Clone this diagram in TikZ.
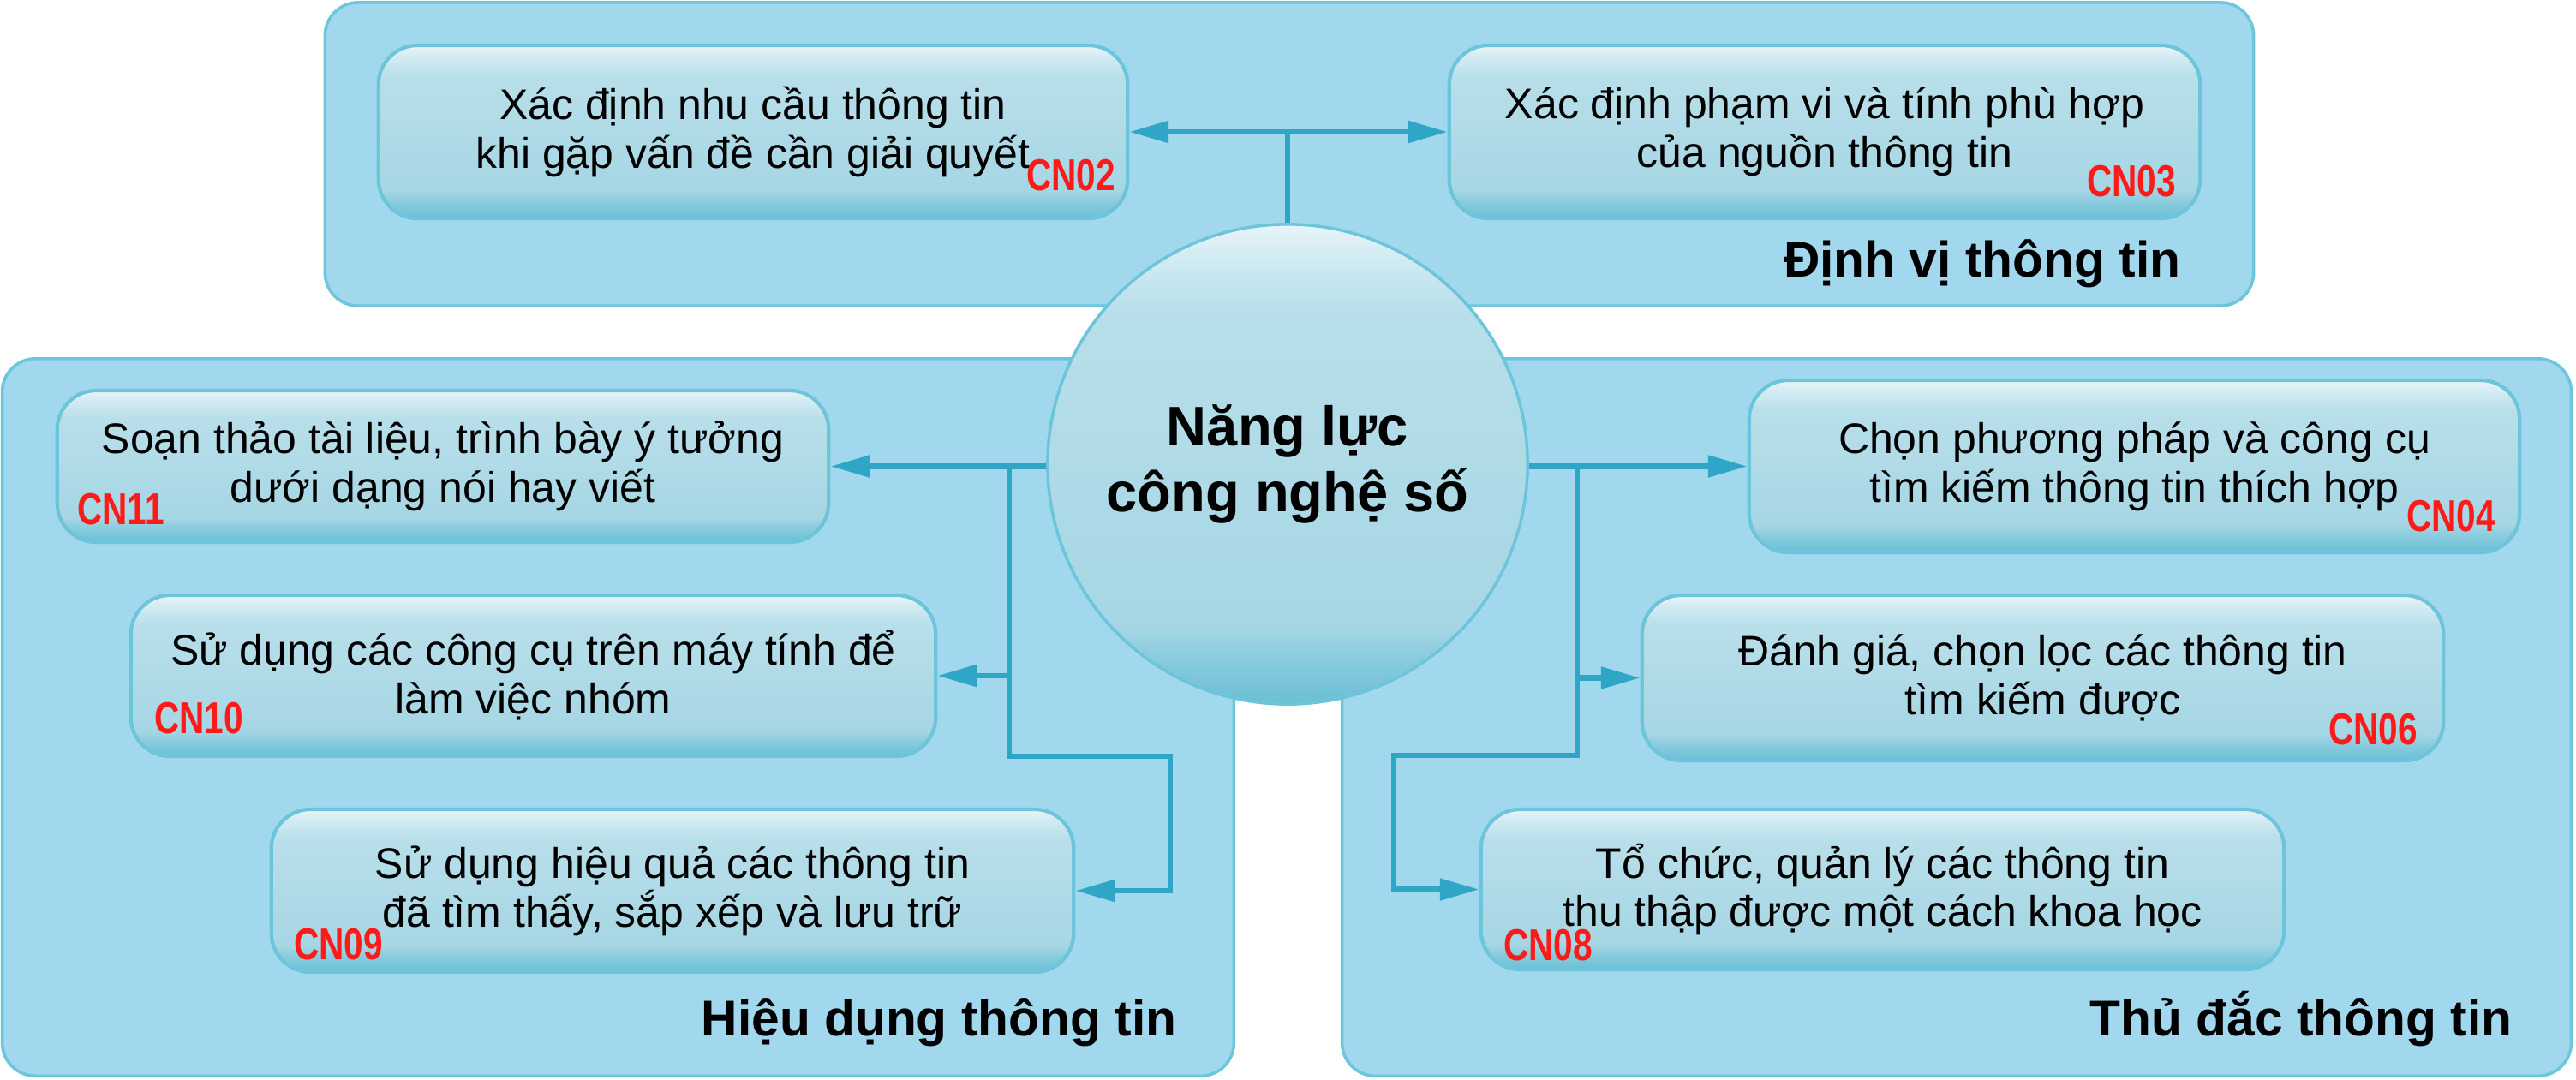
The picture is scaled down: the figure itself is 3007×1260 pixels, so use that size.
\documentclass[tikz,border=0pt]{standalone}
\usepackage{fontspec}
\setmainfont{Liberation Sans}
\usepackage{graphicx}
\usetikzlibrary{arrows.meta}
\definecolor{panelfill}{HTML}{A2D8EE}
\definecolor{panelline}{HTML}{6CC6DC}
\definecolor{boxline}{HTML}{6CC5DB}
\definecolor{conncol}{HTML}{2FA6C6}
\definecolor{cnred}{HTML}{FF1A1A}
\definecolor{gbot}{HTML}{6ABFD5}
\definecolor{glow}{HTML}{8BCCDE}
\definecolor{gmid}{HTML}{A6D6E4}
\definecolor{gmid2}{HTML}{B8DFEA}
\definecolor{ghi}{HTML}{D4ECF3}
\definecolor{gtop}{HTML}{E9F5F9}
\pgfdeclareverticalshading{glossy}{100bp}{color(0bp)=(gbot); color(25bp)=(gbot); color(30bp)=(glow); color(33bp)=(gmid); color(66bp)=(gmid2); color(72bp)=(ghi); color(75bp)=(gtop); color(100bp)=(gtop)}
\tikzset{
  panel/.style={draw=panelline, line width=1pt, fill=panelfill, rounded corners=11pt, inner sep=0pt},
  box/.style={draw=boxline, line width=1.2pt, shade, shading=glossy, rounded corners=13pt, align=center,
    font=\fontsize{14.2}{16.2}\selectfont, inner sep=0pt},
  hub/.style={circle, draw=boxline, line width=1pt, shade, shading=glossy, align=center,
    font=\fontsize{18.5}{21.9}\selectfont\bfseries, inner sep=0pt, minimum size=5.6cm},
  conn/.style={draw=conncol, line width=1.8pt},
  tip/.style={-{Triangle[length=13pt,width=7pt]}},
  tips/.style={{Triangle[length=13pt,width=7pt]}-{Triangle[length=13pt,width=7pt]}},
  cnlabel/.style={text=cnred, font=\fontsize{14.8}{16}\selectfont\bfseries, inner sep=0pt},
  grp/.style={font=\fontsize{16.7}{19}\selectfont\bfseries, inner sep=0pt, anchor=base east},
}
\newcommand{\cnnum}[1]{\scalebox{0.78}[1]{#1}}
\begin{document}
\begin{tikzpicture}[x=0.01cm, y=-0.01cm]
\useasboundingbox (0,0) rectangle (3007,1260);
\fill[white] (0,0) rectangle (3007,1260);
% panels
\node[panel, minimum width=22.5cm, minimum height=3.54cm] (ptop) at (1505,180) {};
\node[panel, minimum width=14.37cm, minimum height=8.37cm] (pleft) at (721.5,837.5) {};
\node[panel, minimum width=14.34cm, minimum height=8.37cm] (pright) at (2284,837.5) {};
% boxes
\node[box, minimum width=8.74cm, minimum height=2.02cm] (b02) at (879,154) {Xác định nhu cầu thông tin\\khi gặp vấn đề cần giải quyết};
\node[box, minimum width=8.76cm, minimum height=2.02cm] (b03) at (2130,154) {Xác định phạm vi và tính phù hợp\\của nguồn thông tin};
\node[box, minimum width=9.00cm, minimum height=1.77cm] (b11) at (517,544.5) {Soạn thảo tài liệu, trình bày ý tưởng\\dưới dạng nói hay viết};
\node[box, minimum width=9.39cm, minimum height=1.88cm] (b10) at (622.5,789) {Sử dụng các công cụ trên máy tính để\\làm việc nhóm};
\node[box, minimum width=9.36cm, minimum height=1.90cm] (b09) at (785,1040) {Sử dụng hiệu quả các thông tin\\đã tìm thấy, sắp xếp và lưu trữ};
\node[box, minimum width=8.99cm, minimum height=2.01cm] (b04) at (2491.5,544.5) {Chọn phương pháp và công cụ\\tìm kiếm thông tin thích hợp};
\node[box, minimum width=9.35cm, minimum height=1.93cm] (b06) at (2384.5,791.5) {Đánh giá, chọn lọc các thông tin\\tìm kiếm được};
\node[box, minimum width=9.37cm, minimum height=1.87cm] (b08) at (2197.5,1038.5) {Tổ chức, quản lý các thông tin\\thu thập được một cách khoa học};
% hub
\node[hub] (c) at (1503,542) {Năng lực\\công nghệ số};
% junction coordinates
\coordinate (jl1) at (1178,544);
\coordinate (jl2) at (1178,883);
\coordinate (jl3) at (1366,883);
\coordinate (jr1) at (1841,544);
\coordinate (jr2) at (1841,882);
\coordinate (jr3) at (1627,882);
% connectors
\draw[conn, tips] (b02.east) -- (b03.west);
\draw[conn] (c.north) -- (c.north |- b02.east);
\draw[conn, tip] (c.west |- b11.east) -- (b11.east);
\draw[conn, tip] (jl1) -- (jl2) -- (jl3) -- (jl3 |- b09.east) -- (b09.east);
\draw[conn, tip] (jl1 |- b10.east) -- (b10.east);
\draw[conn, tip] (c.east |- b04.west) -- (b04.west);
\draw[conn, tip] (jr1) -- (jr2) -- (jr3) -- (jr3 |- b08.west) -- (b08.west);
\draw[conn, tip] (jr1 |- b06.west) -- (b06.west);
% codes
\node[cnlabel] (n02) at (1250,205) {\cnnum{CN02}};
\node[cnlabel] (n03) at (2488,212) {\cnnum{CN03}};
\node[cnlabel] (n11) at (141,595) {\cnnum{CN11}};
\node[cnlabel] (n10) at (232,839) {\cnnum{CN10}};
\node[cnlabel] (n09) at (395,1103) {\cnnum{CN09}};
\node[cnlabel] (n04) at (2861,603) {\cnnum{CN04}};
\node[cnlabel] (n06) at (2770,852) {\cnnum{CN06}};
\node[cnlabel] (n08) at (1807,1104) {\cnnum{CN08}};
% group labels
\node[grp] (ldv) at (2546,323) {Định vị thông tin};
\node[grp] (lhd) at (1374,1209) {Hiệu dụng thông tin};
\node[grp] (ltd) at (2933,1209) {Thủ đắc thông tin};
\end{tikzpicture}
\end{document}
